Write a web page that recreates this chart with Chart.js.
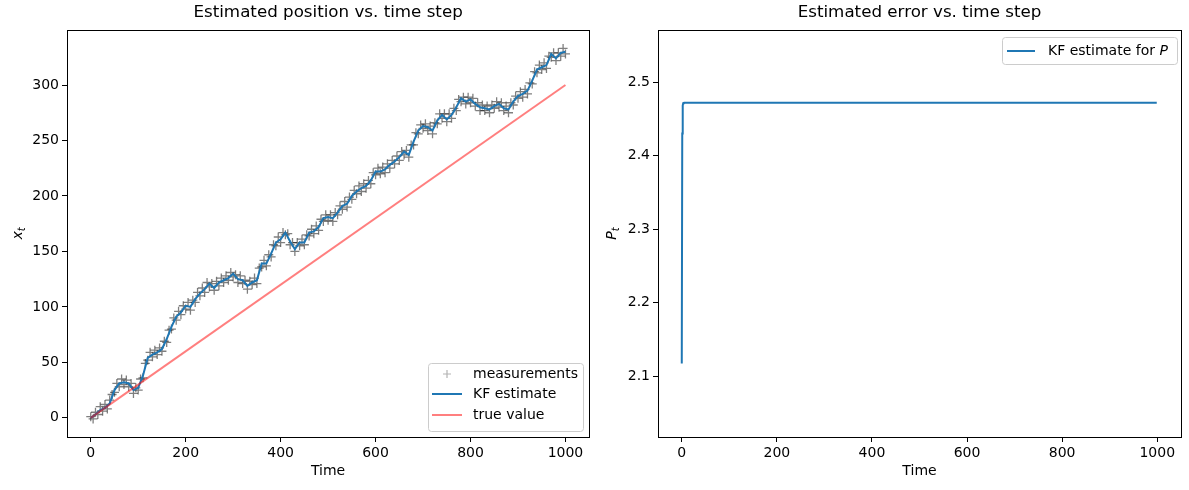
<!DOCTYPE html>
<html>
<head>
<meta charset="utf-8">
<script src="https://cdn.jsdelivr.net/npm/chart.js@4"></script>
<style>
  html, body { margin: 0; padding: 0; background: #fff; }
  #wrap { position: relative; width: 1189px; height: 490px; }
  #left { position: absolute; left: 0; top: 0; }
  #right { position: absolute; left: 595px; top: 0; }
</style>
</head>
<body>
<div id="wrap">
  <canvas id="left" width="595" height="490"></canvas>
  <canvas id="right" width="594" height="490"></canvas>
</div>
<script>
// values
// KF estimate, every 10 time steps (t = 0..1000)
const EST_STEP = 10
const kfEstimate = [
  0, 3, 7, 9, 13, 25, 31, 32, 31, 25,
  27, 38, 54, 57, 59, 62, 71, 82, 91, 95,
  101, 100, 107, 112, 116, 121, 117, 122, 124, 126,
  130, 125, 124, 119, 122, 124, 139, 139, 148, 158,
  161, 167, 159, 152, 158, 158, 167, 168, 172, 180,
  181, 180, 185, 191, 193, 200, 204, 207, 209, 214,
  222, 222, 224, 228, 231, 235, 240, 237, 249, 259,
  263, 262, 259, 268, 273, 269, 273, 280, 288, 285,
  287, 283, 280, 279, 278, 281, 283, 279, 278, 285,
  290, 292, 295, 304, 314, 316, 318, 328, 324, 329,
  330,
]

// measurements, every 5 time steps (t = 0..1000)
const MEAS_STEP = 5
const measurements = [
  1, -1, 5, 3, 10, 6, 12, 8, 16, 21,
  23, 31, 28, 35, 30, 34, 28, 31, 22, 27,
  25, 35, 36, 49, 52, 59, 55, 61, 57, 63,
  60, 69, 68, 79, 80, 90, 88, 96, 93, 101,
  98, 104, 97, 106, 104, 113, 110, 117, 113, 122,
  118, 121, 115, 123, 119, 126, 122, 128, 124, 131,
  127, 129, 122, 128, 121, 124, 116, 123, 120, 126,
  121, 135, 136, 142, 137, 147, 145, 156, 155, 163,
  158, 167, 165, 166, 156, 158, 150, 158, 155, 161,
  156, 165, 164, 170, 166, 173, 169, 179, 177, 183,
  178, 183, 177, 185, 183, 191, 188, 195, 190, 199,
  197, 205, 202, 209, 204, 211, 207, 214, 211, 221,
  219, 225, 220, 226, 221, 229, 225, 232, 229, 236,
  232, 240, 237, 241, 235, 246, 246, 257, 256, 264,
  261, 265, 259, 263, 256, 266, 265, 274, 270, 274,
  267, 274, 270, 279, 277, 287, 285, 289, 283, 289,
  284, 288, 281, 284, 277, 282, 277, 281, 275, 282,
  279, 285, 280, 284, 277, 281, 275, 284, 282, 290,
  288, 294, 289, 296, 292, 302, 301, 312, 311, 318,
  314, 320, 315, 326, 325, 329, 322, 329, 326, 333,
  328,
]

// true value line (start / end)
const trueTimes = [0, 1000]
const trueValues = [0, 300]

// P estimate
const pTimes = [0, 1, 2, 3, 4, 5, 999]
const pValues = [2.117, 2.43, 2.468, 2.4714, 2.4718, 2.472, 2.472]

// tick labels
const timeTicks = [0, 200, 400, 600, 800, 1000]
const posTicks = [0, 50, 100, 150, 200, 250, 300]
const pTicks = [2.1, 2.2, 2.3, 2.4, 2.5]

const FONT = 'DejaVu Sans'
const BLUE = '#1f77b4'

Chart.defaults.font.family = FONT
Chart.defaults.font.size = 14
Chart.defaults.color = '#000'

function toPoints(xs, ys) {
  return ys.map((y, i) => ({ x: xs[i], y }))
}

// frame, title, axis labels and legend drawn on top of the chart
function decorPlugin(opts) {
  return {
    id: 'decor',
    afterDraw(chart) {
      const { ctx, chartArea: a } = chart
      ctx.save()
      ctx.strokeStyle = '#000'
      ctx.lineWidth = 1
      ctx.strokeRect(Math.round(a.left) + 0.5, Math.round(a.top) + 0.5,
        Math.round(a.right - a.left), Math.round(a.bottom - a.top))

      const cx = (a.left + a.right) / 2
      ctx.fillStyle = '#000'
      ctx.textAlign = 'center'
      ctx.textBaseline = 'middle'
      ctx.font = `16.7px "${FONT}"`
      ctx.fillText(opts.title, cx, 13)

      ctx.font = `14px "${FONT}"`
      ctx.fillText('Time', cx, 471)

      // y label with subscript
      ctx.save()
      ctx.translate(opts.ylabelX, (a.top + a.bottom) / 2)
      ctx.rotate(-Math.PI / 2)
      ctx.textAlign = 'left'
      ctx.font = `italic 14px "${FONT}"`
      const w1 = ctx.measureText(opts.ylabel).width
      ctx.font = `10px "${FONT}"`
      const w2 = ctx.measureText('t').width
      const x0 = -(w1 + w2) / 2
      ctx.font = `italic 14px "${FONT}"`
      ctx.fillText(opts.ylabel, x0, 0)
      ctx.font = `italic 10px "${FONT}"`
      ctx.fillText('t', x0 + w1, 4)
      ctx.restore()

      // legend
      const L = opts.legend
      ctx.beginPath()
      ctx.roundRect(L.x + 0.5, L.y + 0.5, L.w, L.h, 3)
      ctx.fillStyle = 'rgba(255,255,255,0.8)'
      ctx.fill()
      ctx.strokeStyle = '#cccccc'
      ctx.lineWidth = 1
      ctx.stroke()
      ctx.textAlign = 'left'
      ctx.textBaseline = 'middle'
      L.items.forEach(it => {
        if (it.type === 'cross') {
          ctx.strokeStyle = it.color
          ctx.lineWidth = 1.2
          ctx.beginPath()
          ctx.moveTo(it.mx - 4, it.y); ctx.lineTo(it.mx + 4, it.y)
          ctx.moveTo(it.mx, it.y - 4); ctx.lineTo(it.mx, it.y + 4)
          ctx.stroke()
        } else {
          ctx.strokeStyle = it.color
          ctx.lineWidth = 2
          ctx.beginPath()
          ctx.moveTo(it.x1, it.y); ctx.lineTo(it.x2, it.y)
          ctx.stroke()
        }
        ctx.fillStyle = '#000'
        ctx.font = `14px "${FONT}"`
        ctx.fillText(it.label, it.tx, it.y)
        if (it.italic) {
          const w = ctx.measureText(it.label).width
          ctx.font = `italic 14px "${FONT}"`
          ctx.fillText(it.italic, it.tx + w, it.y)
        }
      })
      ctx.restore()
    },
  }
}

const tickGrid = { drawOnChartArea: false, drawTicks: true, tickLength: 5, color: '#000', lineWidth: 1 }

function timeAxis() {
  return {
    type: 'linear',
    min: -50, max: 1050,
    afterFit: s => { s.height = 53 },
    afterBuildTicks: s => { s.ticks = timeTicks.map(v => ({ value: v })) },
    grid: tickGrid,
    border: { display: false },
    ticks: { padding: 3, maxRotation: 0, font: { size: 14 }, callback: v => String(v) },
  }
}

new Chart(document.getElementById('left'), {
  type: 'line',
  data: {
    datasets: [
      {
        label: 'measurements',
        data: toPoints(measurements.map((_, i) => i * MEAS_STEP), measurements),
        showLine: false,
        pointStyle: 'cross',
        pointRadius: 4.5,
        pointBorderWidth: 1.3,
        borderColor: 'rgba(0,0,0,0.5)',
        backgroundColor: 'rgba(0,0,0,0.5)',
        order: 3,
      },
      {
        label: 'KF estimate',
        data: toPoints(kfEstimate.map((_, i) => i * EST_STEP), kfEstimate),
        borderColor: BLUE,
        borderWidth: 2,
        pointRadius: 0,
        tension: 0,
        order: 2,
      },
      {
        label: 'true value',
        data: toPoints(trueTimes, trueValues),
        borderColor: 'rgba(255,0,0,0.5)',
        borderWidth: 2,
        pointRadius: 0,
        order: 1,
      },
    ],
  },
  options: {
    responsive: false,
    animation: false,
    devicePixelRatio: 1,
    layout: { padding: { top: 30, right: 5, left: 0, bottom: 0 } },
    plugins: { legend: { display: false }, tooltip: { enabled: false } },
    scales: {
      x: timeAxis(),
      y: {
        min: -17.3, max: 349.6,
        afterFit: s => { s.width = 67 },
        afterBuildTicks: s => { s.ticks = posTicks.map(v => ({ value: v })) },
        grid: tickGrid,
        border: { display: false },
        ticks: { padding: 3, font: { size: 14 } },
      },
    },
  },
  plugins: [decorPlugin({
    title: 'Estimated position vs. time step',
    ylabel: 'x',
    ylabelX: 18,
    legend: {
      x: 428, y: 363, w: 155, h: 68,
      items: [
        { type: 'cross', mx: 447, y: 374, color: 'rgba(0,0,0,0.3)', label: 'measurements', tx: 473 },
        { type: 'line', x1: 432, x2: 462, y: 394, color: BLUE, label: 'KF estimate', tx: 473 },
        { type: 'line', x1: 432, x2: 462, y: 415, color: 'rgba(255,0,0,0.5)', label: 'true value', tx: 473 },
      ],
    },
  })],
})

new Chart(document.getElementById('right'), {
  type: 'line',
  data: {
    datasets: [{
      label: 'KF estimate for P',
      data: toPoints(pTimes, pValues),
      borderColor: BLUE,
      borderWidth: 2,
      pointRadius: 0,
      tension: 0,
    }],
  },
  options: {
    responsive: false,
    animation: false,
    devicePixelRatio: 1,
    layout: { padding: { top: 30, right: 8, left: 0, bottom: 0 } },
    plugins: { legend: { display: false }, tooltip: { enabled: false } },
    scales: {
      x: timeAxis(),
      y: {
        min: 2.017, max: 2.571,
        afterFit: s => { s.width = 63 },
        afterBuildTicks: s => { s.ticks = pTicks.map(v => ({ value: v })) },
        grid: tickGrid,
        border: { display: false },
        ticks: { padding: 3, font: { size: 14 }, callback: v => v.toFixed(1) },
      },
    },
  },
  plugins: [decorPlugin({
    title: 'Estimated error vs. time step',
    ylabel: 'P',
    ylabelX: 17,
    legend: {
      x: 407, y: 37, w: 175, h: 27,
      items: [
        { type: 'line', x1: 412, x2: 440, y: 51, color: BLUE, label: 'KF estimate for ', italic: 'P', tx: 453 },
      ],
    },
  })],
})
</script>
</body>
</html>
